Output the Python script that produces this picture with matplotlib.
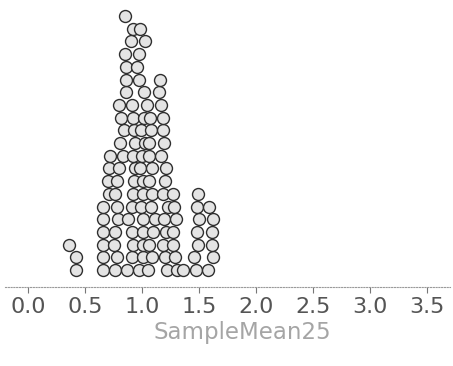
import matplotlib
matplotlib.use("Agg")
from matplotlib import pyplot as plt
from collections import defaultdict

# sample means, listed bin by bin from the bottom of each stack upward
bin_04 = [0.42, 0.42, 0.36]
bin_07 = [0.66, 0.66, 0.66, 0.66, 0.66, 0.66, 0.71, 0.70, 0.71, 0.72]
bin_08 = [0.76, 0.78, 0.75, 0.76, 0.79, 0.78, 0.76, 0.78, 0.80, 0.83, 0.81, 0.84, 0.82, 0.80]
bin_09 = [0.87, 0.91, 0.92, 0.91, 0.88, 0.91, 0.92, 0.93, 0.94, 0.92, 0.94,
          0.93, 0.92, 0.91, 0.86, 0.86, 0.86, 0.85, 0.90, 0.92, 0.85]
bin_10 = [0.97, 1.01, 1.01, 1.01, 1.01, 0.99, 1.01, 1.01, 0.98, 1.00,
          1.03, 0.99, 1.02, 1.04, 1.02, 0.97, 0.96, 0.97, 1.03, 0.98]
bin_11 = [1.05, 1.09, 1.06, 1.10, 1.11, 1.08, 1.09, 1.06, 1.09, 1.06, 1.06, 1.08, 1.07]
bin_12 = [1.22, 1.20, 1.18, 1.21, 1.19, 1.23, 1.18, 1.20, 1.21, 1.17, 1.19,
          1.18, 1.18, 1.17, 1.15, 1.16]
bin_13 = [1.31, 1.29, 1.27, 1.27, 1.30, 1.28, 1.27]
bin_14 = [1.36]
bin_15 = [1.47, 1.46, 1.49, 1.48, 1.50, 1.48, 1.49]
bin_16 = [1.58, 1.62, 1.61, 1.61, 1.62, 1.59]

sample_means = (bin_04 + bin_07 + bin_08 + bin_09 + bin_10 + bin_11 + bin_12
                + bin_13 + bin_14 + bin_15 + bin_16)

tick_values = [0.0, 0.5, 1.0, 1.5, 2.0, 2.5, 3.0, 3.5]
tick_labels = ["0.0", "0.5", "1.0", "1.5", "2.0", "2.5", "3.0", "3.5"]

# stack dots: each value sits on top of the ones already in its 0.1 bin
xs, ys = [], []
counts = defaultdict(int)
for v in sample_means:
    b = int(v * 10 + 0.5 + 1e-6)
    xs.append(v)
    ys.append(counts[b])
    counts[b] += 1

fig = plt.figure(figsize=(4.53, 3.66), dpi=100)
ax = fig.add_axes([0.011, 0.2158, 0.982, 0.784])

ax.scatter(xs, ys, s=74, facecolor="#e4e4e4", edgecolor="#2e2e2e", linewidth=1.0, zorder=3)

ax.set_xlim(-0.202, 3.70)
ax.set_ylim(-1.34, 21.26)

for side in ["top", "right", "left"]:
    ax.spines[side].set_visible(False)
ax.spines["bottom"].set_color("#9a9a9a")
ax.spines["bottom"].set_linestyle((0, (1, 1.5)))
ax.spines["bottom"].set_linewidth(0.8)

ax.set_yticks([])
ax.set_xticks(tick_values)
ax.set_xticklabels(tick_labels)
ax.tick_params(axis="x", direction="out", length=4, width=0.8, color="#777777",
               labelsize=16, labelcolor="#555555", pad=3)

ax.set_xlabel("SampleMean25", fontsize=16.5, color="#a5a5a5", va="top")
ax.xaxis.set_label_coords(0.533, -0.118)

fig.savefig("out.png", dpi=100)
